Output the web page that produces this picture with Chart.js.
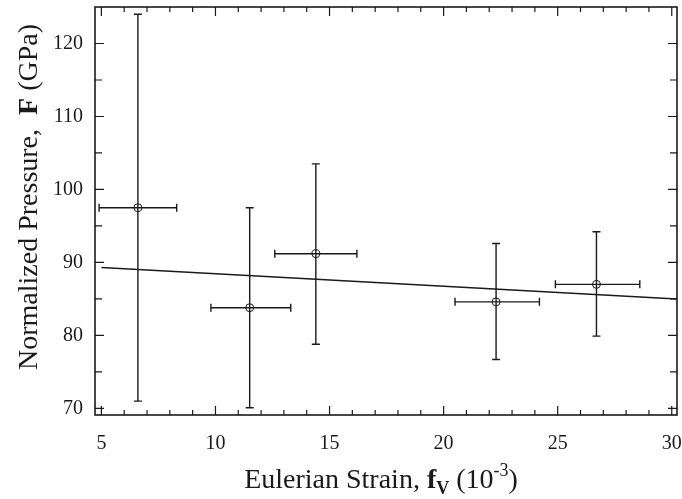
<!DOCTYPE html>
<html>
<head>
<meta charset="utf-8">
<script src="https://cdn.jsdelivr.net/npm/chart.js@4.4.1/dist/chart.umd.min.js"></script>
<style>
  html, body { margin: 0; padding: 0; background: #fff; }
  #wrap { width: 682px; height: 499px; }
</style>
</head>
<body>
<div id="wrap"><canvas id="grafico"></canvas></div>
<script>
  // valores (deformação em 10^-3, pressão em GPa)
  const strain = [6.6, 11.5, 14.4, 22.3, 26.7];
  const pressure = [97.5, 83.8, 91.2, 84.6, 87.0];
  const strainLow = [4.9, 9.8, 12.6, 20.5, 24.9];
  const strainHigh = [8.3, 13.3, 16.2, 24.2, 28.6];
  const pressureLow = [71.0, 70.1, 78.8, 76.7, 79.9];
  const pressureHigh = [124.0, 97.5, 103.5, 92.6, 94.2];

  // reta ajustada
  const fitX = [5, 30.23];
  const fitY = [89.3, 85.0];

  const xTickValues = [5, 10, 15, 20, 25, 30];
  const yTickValues = [70, 80, 90, 100, 110, 120];

  const pontos = strain.map((x, i) => ({ x, y: pressure[i] }));
  const reta = fitX.map((x, i) => ({ x, y: fitY[i] }));

  const cor = '#1a1a1a';
  const serif = '"Liberation Serif", "DejaVu Serif", serif';

  // barras de erro
  const errorBars = {
    id: 'errorBars',
    afterDatasetsDraw(chart) {
      const { ctx, scales: { x, y } } = chart;
      const cap = 4;
      ctx.save();
      ctx.strokeStyle = cor;
      ctx.lineWidth = 1.4;
      strain.forEach((sx, i) => {
        const px = x.getPixelForValue(sx);
        const py = y.getPixelForValue(pressure[i]);
        const x0 = x.getPixelForValue(strainLow[i]);
        const x1 = x.getPixelForValue(strainHigh[i]);
        const y0 = y.getPixelForValue(pressureLow[i]);
        const y1 = y.getPixelForValue(pressureHigh[i]);
        ctx.beginPath();
        ctx.moveTo(x0, py); ctx.lineTo(x1, py);
        ctx.moveTo(x0, py - cap); ctx.lineTo(x0, py + cap);
        ctx.moveTo(x1, py - cap); ctx.lineTo(x1, py + cap);
        ctx.moveTo(px, y0); ctx.lineTo(px, y1);
        ctx.moveTo(px - cap, y0); ctx.lineTo(px + cap, y0);
        ctx.moveTo(px - cap, y1); ctx.lineTo(px + cap, y1);
        ctx.stroke();
      });
      ctx.restore();
    }
  };

  // moldura com marcas internas nos quatro lados
  const moldura = {
    id: 'moldura',
    afterDraw(chart) {
      const { ctx, chartArea: a, scales: { x, y } } = chart;
      ctx.save();
      ctx.strokeStyle = cor;
      ctx.lineWidth = 1.6;
      ctx.strokeRect(a.left, a.top, a.right - a.left, a.bottom - a.top);
      ctx.lineWidth = 1.2;
      ctx.beginPath();
      for (let v = 5; v <= 30; v++) {
        const p = x.getPixelForValue(v);
        const len = v % 5 === 0 ? 9 : 5;
        ctx.moveTo(p, a.bottom); ctx.lineTo(p, a.bottom - len);
        ctx.moveTo(p, a.top); ctx.lineTo(p, a.top + len);
      }
      for (let v = 70; v <= 120; v += 5) {
        const p = y.getPixelForValue(v);
        const len = v % 10 === 0 ? 9 : 7;
        ctx.moveTo(a.left, p); ctx.lineTo(a.left + len, p);
        ctx.moveTo(a.right, p); ctx.lineTo(a.right - len, p);
      }
      ctx.stroke();
      ctx.restore();
    }
  };

  function desenharPartes(ctx, partes, cx, cy) {
    let total = 0;
    partes.forEach(p => { ctx.font = p.font; p.w = ctx.measureText(p.t).width; total += p.w; });
    let px = cx - total / 2;
    partes.forEach(p => {
      ctx.font = p.font;
      ctx.fillText(p.t, px, cy + (p.dy || 0));
      px += p.w;
    });
  }

  // títulos dos eixos com negrito, subscrito e sobrescrito
  const titulos = {
    id: 'titulos',
    afterDraw(chart) {
      const { ctx, chartArea: a } = chart;
      ctx.save();
      ctx.fillStyle = cor;
      ctx.textBaseline = 'alphabetic';
      ctx.textAlign = 'left';
      desenharPartes(ctx, [
        { t: 'Eulerian Strain, ', font: '28px ' + serif },
        { t: 'f', font: 'bold 28px ' + serif },
        { t: 'V', font: 'bold 18px ' + serif, dy: 6 },
        { t: ' (10', font: '28px ' + serif },
        { t: '-3', font: '18px ' + serif, dy: -12 },
        { t: ')', font: '28px ' + serif }
      ], (a.left + a.right) / 2 - 5, 488);

      ctx.translate(37, 197);
      ctx.rotate(-Math.PI / 2);
      desenharPartes(ctx, [
        { t: 'Normalized Pressure,  ', font: '28px ' + serif },
        { t: 'F', font: 'bold 28px ' + serif },
        { t: ' (GPa)', font: '28px ' + serif }
      ], 0, 0);
      ctx.restore();
    }
  };

  const semPadding = s => { s.paddingTop = 0; s.paddingBottom = 0; s.paddingLeft = 0; s.paddingRight = 0; };

  new Chart(document.getElementById('grafico'), {
    type: 'scatter',
    data: {
      datasets: [
        {
          label: 'ajuste',
          data: reta,
          showLine: true,
          borderColor: cor,
          borderWidth: 1.5,
          pointRadius: 0
        },
        {
          label: 'dados',
          data: pontos,
          pointStyle: 'circle',
          pointRadius: 4,
          borderColor: cor,
          borderWidth: 1,
          backgroundColor: 'rgba(0,0,0,0)'
        }
      ]
    },
    options: {
      responsive: true,
      maintainAspectRatio: false,
      animation: false,
      layout: { padding: { left: 0, right: 0, top: 7, bottom: 0 } },
      plugins: { legend: { display: false }, tooltip: { enabled: false } },
      scales: {
        x: {
          type: 'linear',
          min: 4.72,
          max: 30.23,
          afterFit: s => { s.height = 84; semPadding(s); },
          afterBuildTicks: s => { s.ticks = xTickValues.map(v => ({ value: v })); },
          grid: { display: false, drawTicks: false },
          border: { display: false },
          ticks: {
            padding: 17,
            color: cor,
            font: { family: serif, size: 20 },
            maxRotation: 0
          }
        },
        y: {
          type: 'linear',
          min: 69.1,
          max: 125,
          afterFit: s => { s.width = 95; semPadding(s); },
          afterBuildTicks: s => { s.ticks = yTickValues.map(v => ({ value: v })); },
          grid: { display: false, drawTicks: false },
          border: { display: false },
          ticks: {
            padding: 12,
            color: cor,
            font: { family: serif, size: 20 }
          }
        }
      }
    },
    plugins: [errorBars, moldura, titulos]
  });
</script>
</body>
</html>
